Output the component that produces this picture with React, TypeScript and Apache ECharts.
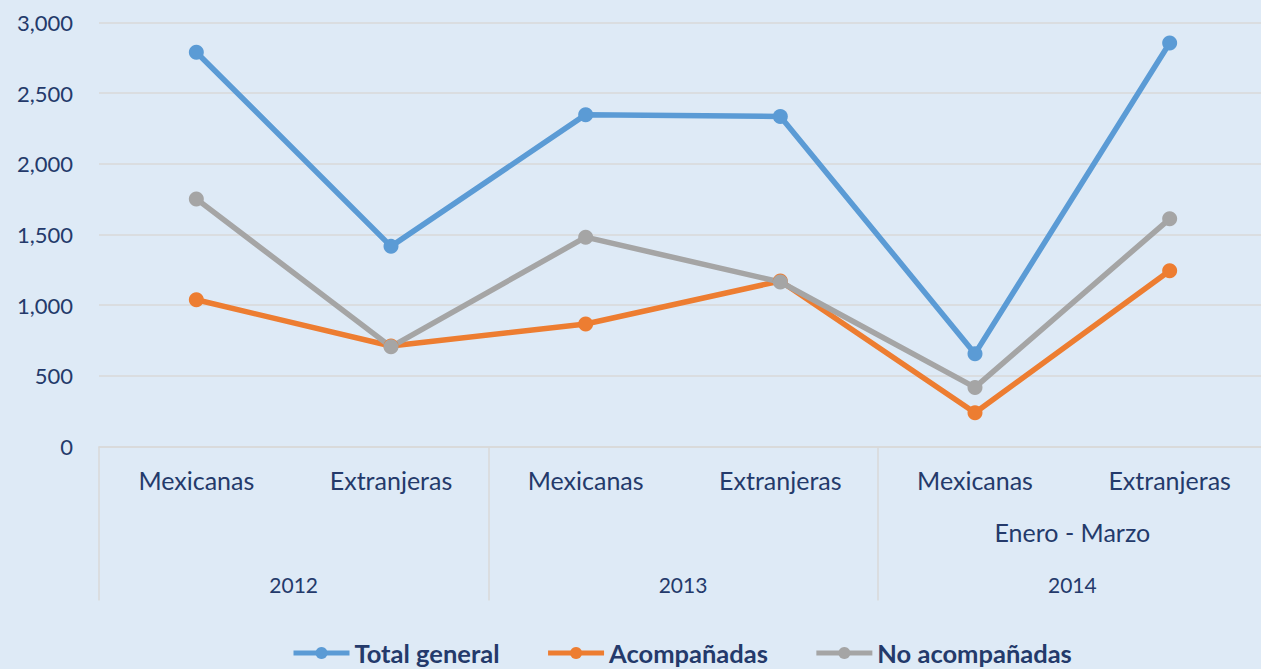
import React, { useEffect, useRef } from "react";
import * as echarts from "echarts";

const categories = ["Mexicanas", "Extranjeras", "Mexicanas", "Extranjeras", "Mexicanas", "Extranjeras"];
const years = ["2012", "2013", "2014"];
const periodNotes = ["", "", "Enero - Marzo"];
const totalGeneral = [2790, 1416, 2348, 2335, 657, 2855];
const acompanadas = [1038, 711, 867, 1171, 239, 1244];
const noAcompanadas = [1752, 705, 1481, 1164, 418, 1611];

const TEXT = "#243a6b";
const FONT = "Lato";

export default function App() {
  const ref = useRef<HTMLDivElement>(null);
  useEffect(() => {
    const chart = echarts.init(ref.current!, null, { renderer: "svg" });
    const mk = (name: string, data: number[], color: string) => ({
      name,
      type: "line",
      data,
      xAxisIndex: 0,
      yAxisIndex: 0,
      symbol: "circle",
      symbolSize: 15,
      lineStyle: { width: 5.5, color },
      itemStyle: { color },
      z: 3,
    });
    chart.setOption({
      animation: false,
      backgroundColor: "#deeaf6",
      textStyle: { fontFamily: FONT },
      grid: { left: 99, right: 0, top: 22.5, bottom: 222.5, containLabel: false },
      legend: {
        left: 291,
        top: 638,
        padding: 0,
        itemWidth: 56,
        itemHeight: 15,
        itemGap: 46,
        lineStyle: { width: 5 },
        textStyle: { fontFamily: FONT, fontWeight: "bold", fontSize: 25.5, color: TEXT, lineHeight: 30 },
        data: ["Total general", "Acompañadas", "No acompañadas"],
      },
      xAxis: [
        {
          type: "category",
          data: categories,
          position: "bottom",
          axisLine: { lineStyle: { color: "#d9d9d9", width: 1.5 } },
          axisTick: { show: false },
          axisLabel: { margin: 21, fontSize: 25, color: TEXT, fontFamily: FONT, interval: 0 },
        },
        {
          type: "category",
          data: years,
          position: "bottom",
          axisLine: { show: false },
          axisTick: { show: true, length: 154, lineStyle: { color: "#d9d9d9", width: 1.5 } },
          axisLabel: { margin: 127, fontSize: 21, color: TEXT, fontFamily: FONT, interval: 0 },
        },
        {
          type: "category",
          data: periodNotes,
          position: "bottom",
          axisLine: { show: false },
          axisTick: { show: false },
          axisLabel: { margin: 73, fontSize: 25, color: TEXT, fontFamily: FONT, interval: 0 },
        },
      ],
      yAxis: {
        type: "value",
        min: 0,
        max: 3000,
        interval: 500,
        axisLine: { show: false },
        axisTick: { show: false },
        splitLine: { lineStyle: { color: "#d9d9d9", width: 1.5 } },
        axisLabel: {
          margin: 26,
          fontSize: 22,
          color: TEXT,
          fontFamily: FONT,
          formatter: (v: number) => v.toLocaleString("en-US"),
        },
      },
      series: [
        mk("Total general", totalGeneral, "#5b9bd5"),
        mk("Acompañadas", acompanadas, "#ed7d31"),
        mk("No acompañadas", noAcompanadas, "#a5a5a5"),
      ],
    });
    return () => chart.dispose();
  }, []);
  return (
    <div
      ref={ref}
      style={{ position: "fixed", left: 0, top: 0, width: 1267, height: 669 }}
    />
  );
}
